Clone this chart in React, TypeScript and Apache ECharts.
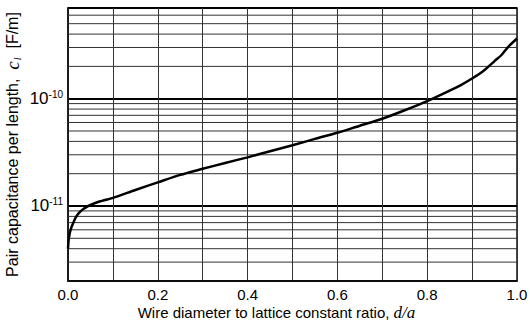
import React, { useEffect, useRef } from "react";
import * as echarts from "echarts";

// Wire diameter to lattice constant ratio d/a
const ratio = [0, 0.001, 0.002, 0.004, 0.006, 0.008, 0.012, 0.017, 0.023, 0.033, 0.045, 0.07, 0.1, 0.15, 0.2, 0.25, 0.3, 0.35, 0.4, 0.45, 0.5, 0.55, 0.6, 0.65, 0.7, 0.75, 0.8, 0.85, 0.875, 0.9, 0.925, 0.95, 0.965, 0.98, 1.0];
// Pair capacitance per length [F/m]
const capacitance = [4.0e-12, 4.6e-12, 5.0e-12, 5.6e-12, 6.0e-12, 6.4e-12, 7.0e-12, 7.8e-12, 8.5e-12, 9.3e-12, 1.0e-11, 1.1e-11, 1.19e-11, 1.41e-11, 1.66e-11, 1.95e-11, 2.22e-11, 2.52e-11, 2.84e-11, 3.24e-11, 3.68e-11, 4.22e-11, 4.81e-11, 5.6e-11, 6.5e-11, 7.8e-11, 9.5e-11, 1.19e-10, 1.34e-10, 1.54e-10, 1.81e-10, 2.24e-10, 2.54e-10, 3.03e-10, 3.64e-10];

const yMin = 2e-12;
const yMax = 7e-10;
const minorGridValues = [3e-12, 4e-12, 5e-12, 6e-12, 7e-12, 8e-12, 9e-12, 2e-11, 3e-11, 4e-11, 5e-11, 6e-11, 7e-11, 8e-11, 9e-11, 2e-10, 3e-10, 4e-10, 5e-10, 6e-10];
const xTickLabels = ["0.0", "0.2", "0.4", "0.6", "0.8", "1.0"];

export default function App() {
  const ref = useRef<HTMLDivElement>(null);
  useEffect(() => {
    document.body.style.margin = "0";
    const chart = echarts.init(ref.current!, undefined, { renderer: "svg" });
    const font = "Liberation Sans, Arial, Helvetica, sans-serif";
    const serif = "Liberation Serif, Times New Roman, serif";
    const gridSeries = minorGridValues.map((v) => ({
      type: "line",
      data: [[0, v], [1, v]],
      showSymbol: false,
      silent: true,
      lineStyle: { color: "#333", width: 1 },
      z: 1,
    }));
    chart.setOption({
      animation: false,
      backgroundColor: "#ffffff",
      grid: {
        left: 68, right: 13, top: 8, bottom: 43,
        outerBoundsMode: "none",
        containLabel: false,
        show: true, borderColor: "#111", borderWidth: 1.5, backgroundColor: "transparent",
      },
      xAxis: {
        type: "value",
        min: 0,
        max: 1,
        interval: 0.2,
        name: "Wire diameter to lattice constant ratio, {i|d/a}",
        nameLocation: "middle",
        nameGap: 23,
        nameMoveOverlap: false,
        nameTextStyle: {
          fontFamily: font,
          fontSize: 15,
          color: "#000",
          padding: [0, 32, 0, 0],
          rich: { i: { fontFamily: serif, fontStyle: "italic", fontSize: 17, color: "#000" } },
        },
        axisLine: { show: true, lineStyle: { color: "#111", width: 1.5 } },
        axisTick: { show: false },
        axisLabel: {
          fontFamily: font,
          fontSize: 15,
          color: "#000",
          margin: 6,
          formatter: (v: number) => xTickLabels[Math.round(v / 0.2)] ?? "",
        },
        splitLine: { show: true, lineStyle: { color: "#333", width: 1 } },
        minorTick: { show: false, splitNumber: 2 },
        minorSplitLine: { show: true, lineStyle: { color: "#333", width: 1 } },
      },
      yAxis: {
        type: "log",
        logBase: 10,
        min: yMin,
        max: yMax,
        name: "Pair capacitance per length,  {c|c}{l|l}  [F/m]",
        nameLocation: "middle",
        nameGap: 46,
        nameMoveOverlap: false,
        nameTextStyle: {
          fontFamily: font,
          fontSize: 16,
          color: "#000",
          rich: {
            c: { fontFamily: serif, fontStyle: "italic", fontSize: 19, color: "#000" },
            l: { fontFamily: serif, fontStyle: "italic", fontSize: 10, color: "#000", verticalAlign: "bottom", padding: [7, 0, 0, 1] },
          },
        },
        axisLine: { show: true, lineStyle: { color: "#111", width: 1.5 } },
        axisTick: { show: false },
        axisLabel: {
          fontFamily: font,
          fontSize: 17,
          color: "#000",
          margin: 5,
          formatter: (v: number) => {
            const e = Math.log10(v);
            if (Math.abs(e - Math.round(e)) > 1e-6) return "";
            return "{b|10}{s|" + Math.round(e) + "}";
          },
          rich: {
            b: { fontFamily: font, fontSize: 17, color: "#000" },
            s: { fontFamily: font, fontSize: 10, color: "#000", verticalAlign: "top", padding: [0, 0, 9, 0] },
          },
        },
        splitLine: { show: true, lineStyle: { color: "#000", width: 2 } },
      },
      series: [
        ...gridSeries,
        {
          type: "line",
          data: ratio.map((d, i) => [d, capacitance[i]]),
          showSymbol: false,
          smooth: 0.25,
          lineStyle: { color: "#000", width: 2.5 },
          z: 5,
        },
      ],
    });
    return () => chart.dispose();
  }, []);
  return <div ref={ref} style={{ width: 530, height: 324 }} />;
}
